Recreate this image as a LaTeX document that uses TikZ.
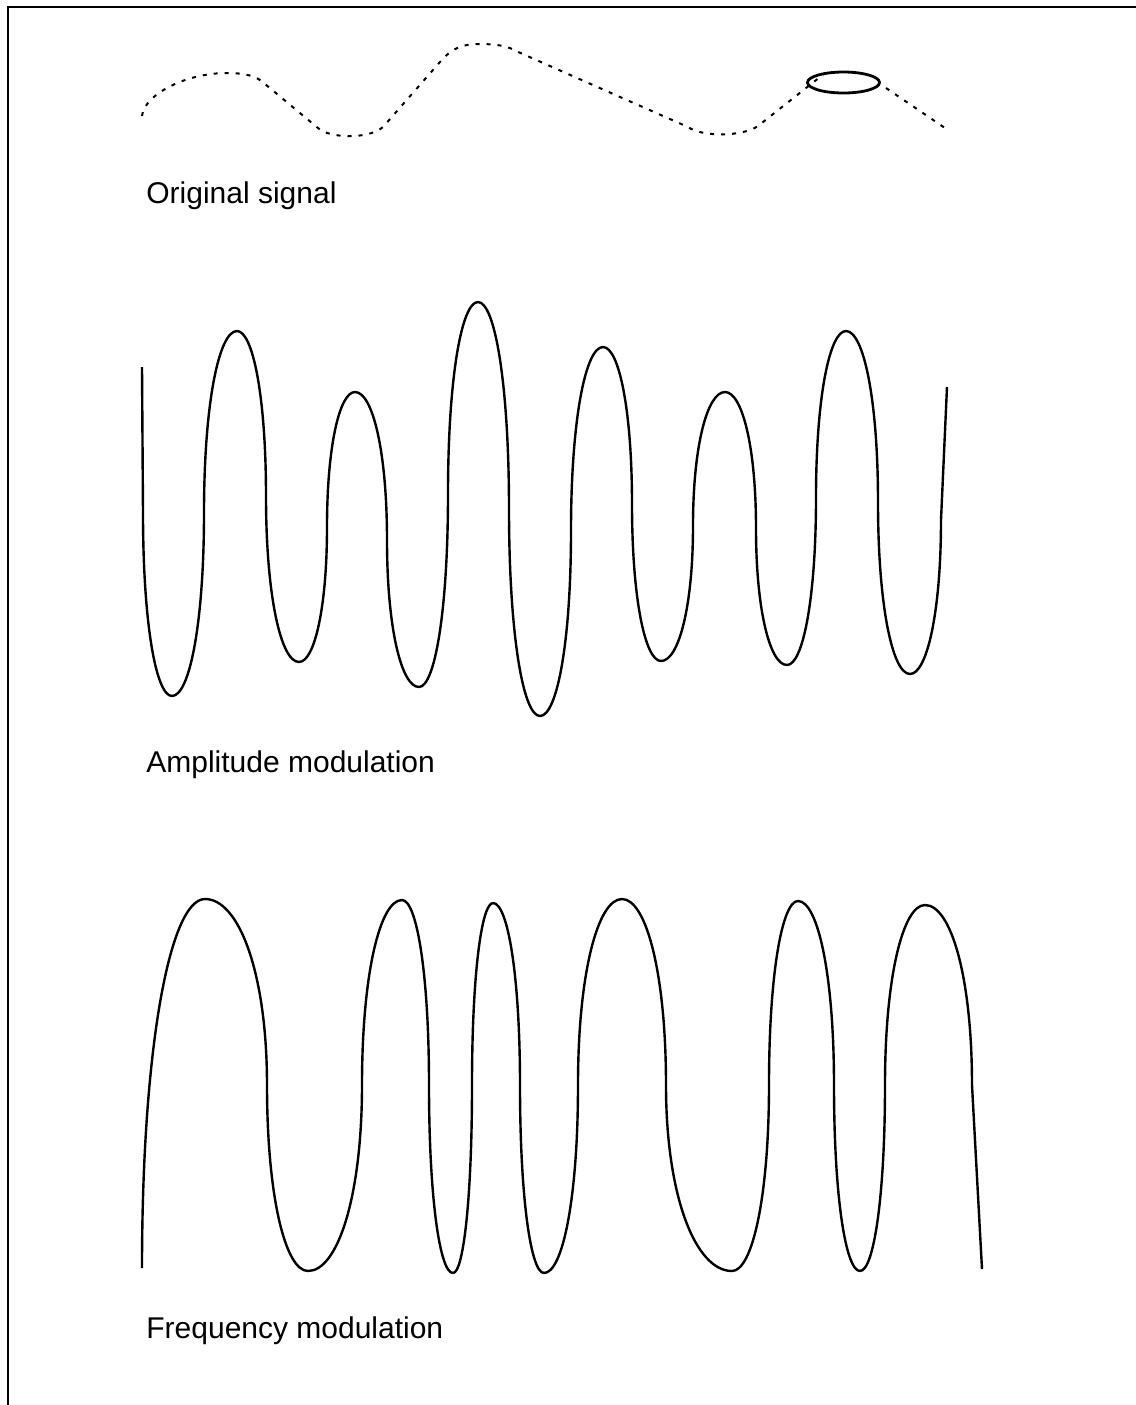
\documentclass[tikz,border=0pt]{standalone}
\usepackage{fontspec}
\newfontfamily\labelfont{Liberation Sans}
\usepackage{tikz}

\begin{document}
\begin{tikzpicture}[x=0.5pt, y=-0.5pt,
          frame/.style={line width=1pt},
          sig/.style={line width=1pt, dash pattern=on 2pt off 3.5pt},
          wave/.style={line width=1.2pt, line join=round},
          ring/.style={line width=1.4pt},
          lbl/.style={font=\labelfont\fontsize{15}{18}\selectfont,
                      anchor=base west, inner sep=0pt}
        ]
          \useasboundingbox (0,0) rectangle (1136,1405);
          % frame on top and left
          \draw[frame] (7.5,1405) -- (7.5,6.5) -- (1136,6.5);

          % original signal
          \draw[sig] (142,116) .. controls (144,95) and (185,73) .. (227,73)
            .. controls (245,73) and (257,76) .. (265,84) -- (318,128)
            .. controls (328,138) and (368,140) .. (383,127) -- (440,62)
            .. controls (452,48) and (462,44) .. (480,44)
            .. controls (496,44) and (508,46) .. (516,51) -- (688,127)
            .. controls (702,137) and (742,137) .. (758,126) -- (825,73);
          \draw[sig] (886,88) -- (945,128);
          \draw[ring] (843.5,82.5) ellipse [x radius=18pt, y radius=5.25pt];
          \node[lbl] (orig) at (146,203) {Original signal};

          % amplitude modulation: extreme / crossing / extreme
          \draw[wave] (142,367) -- (143,513)
            .. controls (143,623) and (156,696) .. (172,696);
          \foreach \xa/\ya/\xm/\ym/\xb/\yb in {
              172/696/204/513/237/331, 237/331/266/496/299/662,
              299/662/327/527/355/392, 355/392/387/540/419/687,
              419/687/448/494/478/302, 478/302/509/509/540/716,
              540/716/571/531/603/347, 603/347/632/504/661/661,
              661/661/693/526/725/392, 725/392/756/528/787/665,
              787/665/816/498/846/331, 846/331/878/502/910/674}
            \draw[wave] (\xa,\ya)
              .. controls ({\xa+0.55*(\xm-\xa)},\ya) and (\xm,{\ym-0.6*(\ym-\ya)}) .. (\xm,\ym)
              .. controls (\xm,{\ym+0.6*(\yb-\ym)}) and ({\xb-0.55*(\xb-\xm)},\yb) .. (\xb,\yb);
          \draw[wave] (910,674) .. controls (927,674) and (941,612) .. (941,520)
            -- (947,387);
          \node[lbl] (am) at (146,772) {Amplitude modulation};

          % frequency modulation
          \draw[wave] (142,1268) .. controls (142,1047) and (170,899) .. (205,899);
          \foreach \xa/\ya/\xm/\ym/\xb/\yb in {
              205/899/267/1085/308/1271, 308/1271/362/1085/402/900,
              402/900/429/1085/453/1273, 453/1273/472/1085/493/903,
              493/903/520/1085/544/1273, 544/1273/578/1085/622/899,
              622/899/666/1085/732/1271, 732/1271/769/1085/798/901,
              798/901/834/1085/860/1271, 860/1271/885/1085/925/905}
            \draw[wave] (\xa,\ya)
              .. controls ({\xa+0.55*(\xm-\xa)},\ya) and (\xm,{\ym-0.6*(\ym-\ya)}) .. (\xm,\ym)
              .. controls (\xm,{\ym+0.6*(\yb-\ym)}) and ({\xb-0.55*(\xb-\xm)},\yb) .. (\xb,\yb);
          \draw[wave] (925,905) .. controls (951,905) and (972,977) .. (972,1085)
            -- (982,1269);
          \node[lbl] (fm) at (146,1338) {Frequency modulation};
        \end{tikzpicture}
\end{document}
